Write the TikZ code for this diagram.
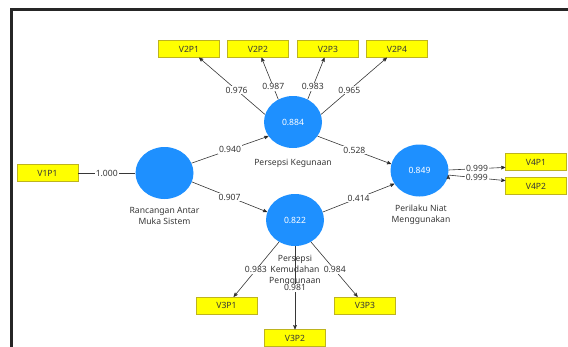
\documentclass[tikz,border=0pt]{standalone}
\usepackage{fontspec}
\setmainfont{Noto Sans}
\usetikzlibrary{shapes.geometric, positioning, arrows}
\definecolor{lvblue}{RGB}{30,144,255}
\definecolor{mvyellow}{RGB}{255,255,0}
\definecolor{mvborder}{RGB}{190,180,30}
\definecolor{pathgray}{RGB}{55,55,55}
\tikzset{
	>=stealth', % filled arrow heads
	lv/.style={ellipse, fill=lvblue, minimum width=58pt, minimum height=52pt, inner sep=0pt, text=white, font=\fontsize{8.6}{10}\selectfont}, % latent variables
	mv/.style={rectangle, draw=mvborder, fill=mvyellow, minimum width=61pt, minimum height=17pt, inner sep=0pt, text=pathgray, font=\fontsize{8.6}{10}\selectfont}, % indicators
	lvname/.style={align=center, text=pathgray, font=\fontsize{8.6}{11}\selectfont}, % names under the circles
	coef/.style={fill=white, inner sep=1pt, text=pathgray, font=\fontsize{8.6}{10}\selectfont}, % path coefficients and loadings
	link/.style={draw=pathgray, line width=0.6pt},
}
\begin{document}
\begin{tikzpicture}[x=1pt, y=-1pt, on grid]
	\useasboundingbox (0,0) rectangle (568,346);
	% frame
	\draw[black!85, line width=2.6pt] (11.5,352) -- (11.5,9.5) -- (574,9.5);

	% Latent variables
	\node[lv] (ranc) at (164.5,173) {};
	\node[lv, above right=51pt and 128.5pt of ranc] (keg) {0.884};
	\node[lv, below right=47pt and 130.5pt of ranc] (kem) {0.822};
	\node[lv, below right=48.5pt and 126.5pt of keg] (per) {0.849};

	% Names
	\node[lvname, below=43pt of ranc] (rancname) {Rancangan Antar\\Muka Sistem};
	\node[lvname, below=41pt of keg] (kegname) {Persepsi Kegunaan};
	\node[lvname, below=50pt of kem] (kemname) {Persepsi\\Kemudahan\\Penggunaan};
	\node[lvname, below right=44pt and 1.5pt of per] (pername) {Perilaku Niat\\Menggunakan};

	% Indicators
	\node[mv, left=117pt of ranc] (v1p1) {V1P1};
	\node[mv, above left=73pt and 104pt of keg] (v2p1) {V2P1};
	\node[mv, right=69pt of v2p1] (v2p2) {V2P2};
	\node[mv, right=70pt of v2p2] (v2p3) {V2P3};
	\node[mv, right=69pt of v2p3] (v2p4) {V2P4};
	\node[mv, below left=85.5pt and 68.5pt of kem] (v3p1) {V3P1};
	\node[mv, below=118pt of kem] (v3p2) {V3P2};
	\node[mv, below right=85.5pt and 70pt of kem] (v3p3) {V3P3};
	\node[mv, above right=8.5pt and 116.5pt of per] (v4p1) {V4P1};
	\node[mv, below=24pt of v4p1] (v4p2) {V4P2};

	% Inner model
	\path[link]
	(v1p1) edge node[coef] {1.000} (ranc)
	(ranc.20) edge[->] node[coef] {0.940} (keg.210)
	(ranc.342) edge[->] node[coef] {0.907} (kem.164)
	(keg.330) edge[->] node[coef] {0.528} (per.167)
	(kem.16) edge[->] node[coef] {0.414} (per.208);

	% Outer model
	\path[link, ->]
	(keg.165) edge node[coef, pos=0.43] {0.976} (v2p1)
	(keg.123) edge node[coef, pos=0.3] {0.987} (v2p2)
	(keg.57) edge node[coef, pos=0.3] {0.983} (v2p3)
	(keg.15) edge node[coef, pos=0.43] {0.965} (v2p4)
	(kem.234) edge node[coef, pos=0.51] {0.983} (v3p1)
	(kem.270) edge node[coef, pos=0.5] {0.981} (v3p2)
	(kem.306) edge node[coef, pos=0.51] {0.984} (v3p3)
	(per.1) edge node[coef] {0.999} (v4p1.190)
	(per.351) edge node[coef] {0.999} (v4p2.170);
\end{tikzpicture}
\end{document}
